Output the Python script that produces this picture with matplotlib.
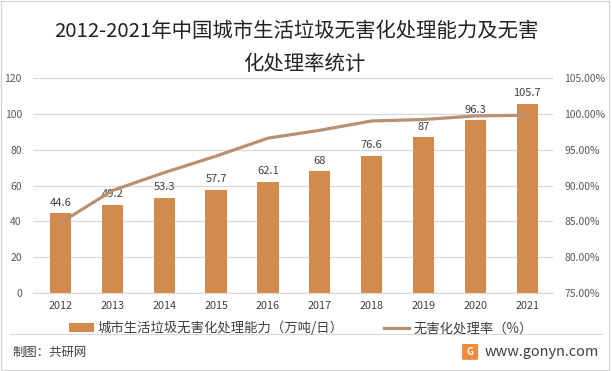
import numpy as np
import matplotlib.pyplot as plt
from matplotlib.patches import Rectangle, FancyBboxPatch
from matplotlib.ticker import FuncFormatter

plt.rcParams['font.family'] = ['Noto Sans CJK SC', 'DejaVu Sans']

# data
years = ['2012', '2013', '2014', '2015', '2016', '2017', '2018', '2019', '2020', '2021']
capacity = [44.6, 49.2, 53.3, 57.7, 62.1, 68, 76.6, 87, 96.3, 105.7]
rate = [84.8, 89.3, 91.8, 94.1, 96.6, 97.7, 99.0, 99.2, 99.7, 99.8]

bar_color = '#D38B4D'
line_color = '#BA9073'
grid_color = '#D9D9D9'
text_color = '#595959'

fig = plt.figure(figsize=(6.12, 3.71), dpi=100)
ax = fig.add_axes([0.054, 0.21, 0.85, 0.58])
ax2 = ax.twinx()

x = np.arange(len(years))
ax.bar(x, capacity, width=0.41, color=bar_color, zorder=2, label='城市生活垃圾无害化处理能力（万吨/日）')
for xi, v in zip(x, capacity):
    ax.text(xi, v + 3, f'{v:g}', ha='center', va='bottom', fontsize=8, color='#404040')

ax2.plot(x, rate, color=line_color, lw=2.3, zorder=3, label='无害化处理率（%）')

ax.set_xlim(-0.53, 9.5)
ax.set_ylim(0, 120)
ax.set_yticks(np.arange(0, 121, 20))
ax2.set_ylim(75, 105)
ax2.set_yticks(np.arange(75, 105.1, 5))
ax2.yaxis.set_major_formatter(FuncFormatter(lambda v, p: f'{v:.2f}%'))

ax.grid(axis='y', color=grid_color, lw=0.9, zorder=0)
ax.set_axisbelow(True)
ax.set_xticks(x)
ax.set_xticklabels(years)
for a in (ax, ax2):
    for s in a.spines.values():
        s.set_visible(False)
    a.tick_params(length=0, labelsize=7.5, colors=text_color)
ax.tick_params(axis='x', labelsize=7.8, colors='#404040', pad=6)
ax.tick_params(axis='y', pad=8)
ax2.tick_params(axis='y', pad=8)
ax.spines['bottom'].set_visible(True)
ax.spines['bottom'].set_color(grid_color)

# title
fig.text(0.484, 0.916, '2012-2021年中国城市生活垃圾无害化处理能力及无害', ha='center', va='center',
         fontsize=14.7, color='#222222')
fig.text(0.497, 0.825, '化处理率统计', ha='center', va='center', fontsize=14.7, color='#222222')

# legend
h1, l1 = ax.get_legend_handles_labels()
h2, l2 = ax2.get_legend_handles_labels()
fig.legend(h1 + h2, l1 + l2, loc='center', bbox_to_anchor=(0.491, 0.116), ncol=2, frameon=False,
           fontsize=9.6, handlelength=1.9, handleheight=0.6, handletextpad=0.3,
           columnspacing=3.0, labelcolor='#404040')

# footer
fig.add_artist(plt.Line2D([0.016, 0.984], [0.1, 0.1], color='#D9D9D9', lw=0.8))
fig.text(0.02, 0.051, '制图：共研网', ha='left', va='center', fontsize=8.9, color='#404040')
fig.add_artist(FancyBboxPatch((0.757, 0.033), 0.022, 0.037, boxstyle='round,pad=0.001',
                              transform=fig.transFigure, color='#F08A3C'))
fig.text(0.768, 0.052, 'G', ha='center', va='center', fontsize=7, color='white', weight='bold')
fig.text(0.792, 0.051, 'www.gonyn.com', ha='left', va='center', fontsize=10.4, color='#404040')

# border
fig.add_artist(Rectangle((0.002, 0.003), 0.993, 0.993, transform=fig.transFigure, fill=False,
                         ec='#D0D0D0', lw=0.8))

fig.savefig('out.png', dpi=100)
